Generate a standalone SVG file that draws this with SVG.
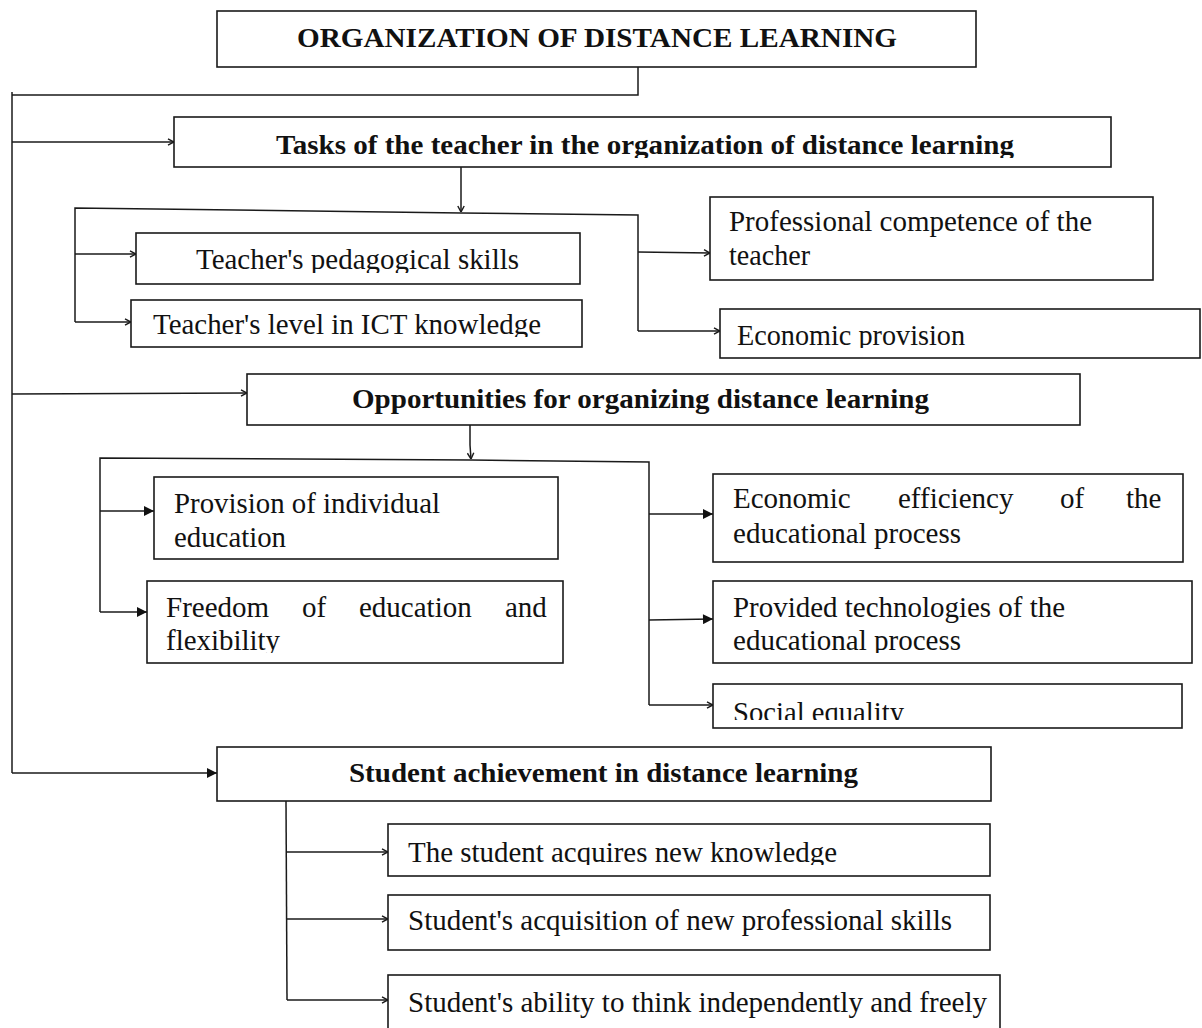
<svg xmlns="http://www.w3.org/2000/svg" width="1202" height="1028" viewBox="0 0 1202 1028">
<style>
.box{fill:#fff;stroke:#1a1a1a;stroke-width:1.6}
.t{font-family:"Liberation Serif","Times New Roman",serif;font-size:29px;fill:#111}
.b{font-family:"Liberation Serif","Times New Roman",serif;font-size:27px;font-weight:bold;fill:#111}
.c{fill:none;stroke:#1a1a1a;stroke-width:1.5}
.oa{marker-end:url(#open)}
.sa{marker-end:url(#solid)}
</style>
<defs>
<marker id="open" viewBox="0 0 10 10" refX="9.5" refY="5" markerWidth="8" markerHeight="8" markerUnits="userSpaceOnUse" orient="auto">
<path d="M2,1 L9.5,5 L2,9" fill="none" stroke="#1a1a1a" stroke-width="1.8"/>
</marker>
<marker id="solid" viewBox="0 0 10 10" refX="10" refY="5" markerWidth="11" markerHeight="10" markerUnits="userSpaceOnUse" orient="auto">
<path d="M0,0 L10,5 L0,10 z" fill="#111"/>
</marker>
<clipPath id="cTasks"><rect x="170" y="110" width="950" height="48"/></clipPath>
<clipPath id="cPed"><rect x="130" y="230" width="460" height="43"/></clipPath>
<clipPath id="cIct"><rect x="125" y="295" width="460" height="42"/></clipPath>
<clipPath id="cEprov"><rect x="715" y="305" width="490" height="43"/></clipPath>
<clipPath id="cFree"><rect x="140" y="575" width="430" height="78"/></clipPath>
<clipPath id="cProv"><rect x="705" y="575" width="495" height="78"/></clipPath>
<clipPath id="cSoc"><rect x="705" y="680" width="495" height="40"/></clipPath>
<clipPath id="cKnow"><rect x="380" y="820" width="620" height="45"/></clipPath>
</defs>
<rect width="1202" height="1028" fill="#fff"/>

<g id="connectors">
<polyline class="c" points="638,67 638,95 12,95"/>
<line class="c" x1="12" y1="92" x2="12" y2="773"/>
<line class="c oa" x1="12" y1="142" x2="174" y2="142"/>
<line class="c oa" x1="461" y1="167" x2="461" y2="212"/>
<polyline class="c" points="75,322 75,208 461,213 638,215 638,331"/>
<line class="c oa" x1="75" y1="254" x2="136" y2="254"/>
<line class="c oa" x1="75" y1="322" x2="131" y2="322"/>
<line class="c oa" x1="638" y1="252" x2="710" y2="253"/>
<line class="c oa" x1="638" y1="331" x2="720" y2="331"/>
<line class="c oa" x1="12" y1="394" x2="247" y2="393"/>
<polyline class="c oa" points="470,425 470,445 471,459"/>
<polyline class="c" points="100,612 100,458 471,460 649,462 649,705"/>
<line class="c sa" x1="100" y1="511" x2="154" y2="511"/>
<line class="c sa" x1="100" y1="612" x2="147" y2="612"/>
<line class="c sa" x1="649" y1="514" x2="713" y2="514"/>
<line class="c sa" x1="649" y1="620" x2="713" y2="619"/>
<line class="c oa" x1="649" y1="705" x2="713" y2="705"/>
<line class="c sa" x1="12" y1="773" x2="217" y2="773"/>
<line class="c" x1="286" y1="801" x2="287" y2="1000"/>
<line class="c oa" x1="286" y1="852" x2="388" y2="852"/>
<line class="c oa" x1="287" y1="919" x2="388" y2="919"/>
<line class="c oa" x1="287" y1="1000" x2="388" y2="1000"/>
</g>

<g id="n-root">
<rect class="box" x="217" y="11" width="759" height="56"/>
<text class="b" x="297" y="47" textLength="600" lengthAdjust="spacingAndGlyphs">ORGANIZATION OF DISTANCE LEARNING</text>
</g>

<g id="n-tasks">
<rect class="box" x="174" y="117" width="937" height="50"/>
<text class="b" x="276" y="154" textLength="738" lengthAdjust="spacingAndGlyphs" clip-path="url(#cTasks)">Tasks of the teacher in the organization of distance learning</text>
</g>

<g id="n-pedagogical">
<rect class="box" x="136" y="233" width="444" height="51"/>
<text class="t" x="196" y="269" textLength="323" lengthAdjust="spacingAndGlyphs" clip-path="url(#cPed)">Teacher's pedagogical skills</text>
</g>

<g id="n-ict">
<rect class="box" x="131" y="300" width="451" height="47"/>
<text class="t" x="153" y="334" textLength="388" lengthAdjust="spacingAndGlyphs" clip-path="url(#cIct)">Teacher's level in ICT knowledge</text>
</g>

<g id="n-competence">
<rect class="box" x="710" y="197" width="443" height="83"/>
<text class="t" x="729" y="231" textLength="363" lengthAdjust="spacingAndGlyphs">Professional competence of the</text>
<text class="t" x="729" y="265" textLength="81" lengthAdjust="spacingAndGlyphs">teacher</text>
</g>

<g id="n-economic-provision">
<rect class="box" x="720" y="309" width="480" height="49"/>
<text class="t" x="737" y="345" textLength="228" lengthAdjust="spacingAndGlyphs" clip-path="url(#cEprov)">Economic provision</text>
</g>

<g id="n-opportunities">
<rect class="box" x="247" y="374" width="833" height="51"/>
<text class="b" x="352" y="408" textLength="577" lengthAdjust="spacingAndGlyphs">Opportunities for organizing distance learning</text>
</g>

<g id="n-individual">
<rect class="box" x="154" y="477" width="404" height="82"/>
<text class="t" x="174" y="513" textLength="266" lengthAdjust="spacingAndGlyphs">Provision of individual</text>
<text class="t" x="174" y="547" textLength="112" lengthAdjust="spacingAndGlyphs">education</text>
</g>

<g id="n-freedom">
<rect class="box" x="147" y="581" width="416" height="82"/>
<text class="t" y="617"><tspan x="166">Freedom</tspan><tspan x="302">of</tspan><tspan x="359">education</tspan><tspan x="505">and</tspan></text>
<text class="t" x="166" y="650" textLength="114" lengthAdjust="spacingAndGlyphs" clip-path="url(#cFree)">flexibility</text>
</g>

<g id="n-efficiency">
<rect class="box" x="713" y="474" width="470" height="88"/>
<text class="t" y="508"><tspan x="733">Economic</tspan><tspan x="898">efficiency</tspan><tspan x="1060">of</tspan><tspan x="1126">the</tspan></text>
<text class="t" x="733" y="543" textLength="228" lengthAdjust="spacingAndGlyphs">educational process</text>
</g>

<g id="n-technologies">
<rect class="box" x="713" y="581" width="479" height="82"/>
<text class="t" x="733" y="617" textLength="332" lengthAdjust="spacingAndGlyphs">Provided technologies of the</text>
<text class="t" x="733" y="650" textLength="228" lengthAdjust="spacingAndGlyphs" clip-path="url(#cProv)">educational process</text>
</g>

<g id="n-equality">
<rect class="box" x="713" y="684" width="469" height="44"/>
<text class="t" x="733" y="722" textLength="171" lengthAdjust="spacingAndGlyphs" clip-path="url(#cSoc)">Social equality</text>
</g>

<g id="n-student">
<rect class="box" x="217" y="747" width="774" height="54"/>
<text class="b" x="349" y="782" textLength="509" lengthAdjust="spacingAndGlyphs">Student achievement in distance learning</text>
</g>

<g id="n-knowledge">
<rect class="box" x="388" y="824" width="602" height="52"/>
<text class="t" x="408" y="862" textLength="429" lengthAdjust="spacingAndGlyphs" clip-path="url(#cKnow)">The student acquires new knowledge</text>
</g>

<g id="n-skills">
<rect class="box" x="388" y="895" width="602" height="55"/>
<text class="t" x="408" y="930" textLength="544" lengthAdjust="spacingAndGlyphs">Student's acquisition of new professional skills</text>
</g>

<g id="n-think">
<rect class="box" x="388" y="975" width="612" height="60"/>
<text class="t" x="408" y="1012" textLength="579" lengthAdjust="spacingAndGlyphs">Student's ability to think independently and freely</text>
</g>
</svg>
